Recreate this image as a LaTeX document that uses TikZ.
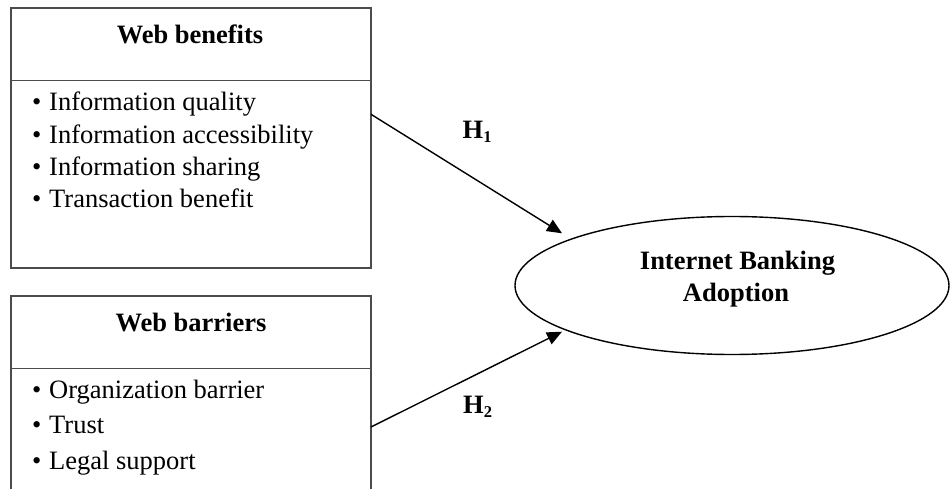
\documentclass[tikz,border=0pt]{standalone}
\usepackage{fontspec}
\setmainfont{Liberation Serif}
\usetikzlibrary{arrows.meta,shapes.geometric}
\tikzset{
  boxline/.style={draw=black!70, line width=1.6pt},
  item/.style={anchor=base west, inner sep=0pt, font=\fontsize{26.5}{30}\selectfont},
  title/.style={anchor=base, inner sep=0pt, font=\bfseries\fontsize{26.5}{30}\selectfont},
  hyp/.style={anchor=base west, inner sep=0pt, font=\bfseries\fontsize{26.5}{30}\selectfont},
  arr/.style={draw=black, line width=1.4pt, -{Triangle[length=15pt,width=13pt]}},
  ellip/.style={draw=black, line width=1.4pt, ellipse, inner sep=0pt}
}
\newcommand{\bul}{\makebox[17pt][l]{•}}
\newcommand{\hsub}[1]{\raisebox{-4.4pt}{\fontsize{16.5}{16.5}\selectfont\bfseries #1}}
\begin{document}
\begin{tikzpicture}[x=1pt,y=-1pt]
\clip (0,0) rectangle (951,489);
\useasboundingbox (0,0) rectangle (951,489);
% top box
\node[boxline, rectangle, minimum width=360pt, minimum height=260pt, inner sep=0pt] (wb) at (191,138) {};
\coordinate (wbdl) at (11,80.7);
\coordinate (wbdr) at (371,80.7);
\draw[boxline] (wbdl) -- (wbdr);
\node[title] (wbt) at (190,43.3) {Web benefits};
\node[item] (wb1) at (32,111) {\bul Information quality};
\node[item] (wb2) at (32,143.3) {\bul Information accessibility};
\node[item] (wb3) at (32,175.7) {\bul Information sharing};
\node[item] (wb4) at (32,208) {\bul Transaction benefit};
% bottom box (open below)
\node[boxline, rectangle, minimum width=360pt, minimum height=220pt, inner sep=0pt] (wr) at (191,406) {};
\coordinate (wrdl) at (11,368.3);
\coordinate (wrdr) at (371,368.3);
\draw[boxline] (wrdl) -- (wrdr);
\node[title] (wrt) at (191,331.7) {Web barriers};
\node[item] (wr1) at (32,398.3) {\bul Organization barrier};
\node[item] (wr2) at (32,433.3) {\bul Trust};
\node[item] (wr3) at (32,469.3) {\bul Legal support};
% ellipse
\node[ellip, minimum width=434pt, minimum height=138pt] (iba) at (732,285.5) {};
\node[title] (ibt1) at (737.5,270) {Internet Banking};
\node[title] (ibt2) at (736,301.7) {Adoption};
% arrows
\coordinate (s1) at (371,114.3);
\coordinate (e1) at (562,233.3);
\coordinate (s2) at (371,427);
\coordinate (e2) at (562,331.7);
\draw[arr] (s1) -- (e1);
\draw[arr] (s2) -- (e2);
\node[hyp] (h1) at (462.5,138.3) {H\hsub{1}};
\node[hyp] (h2) at (463,413) {H\hsub{2}};
\end{tikzpicture}
\end{document}
